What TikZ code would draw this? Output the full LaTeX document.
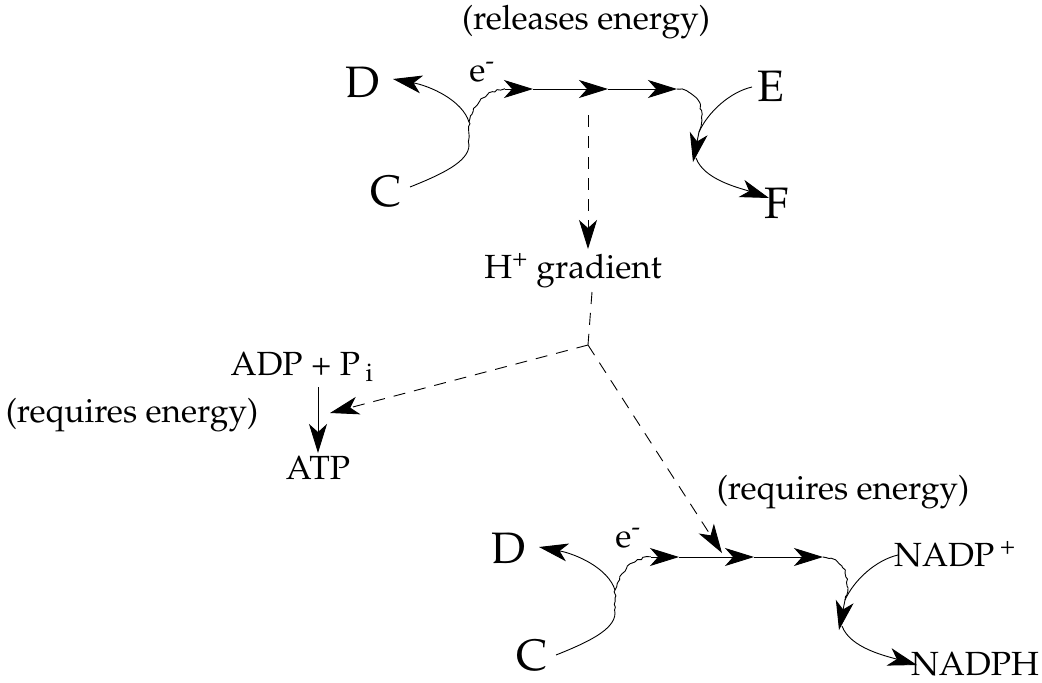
\documentclass[tikz,border=0pt]{standalone}
\usepackage[T1]{fontenc}
\usepackage{mathpazo}
\usetikzlibrary{arrows.meta,decorations.pathmorphing}

\tikzset{
  big/.style={inner sep=0pt, font=\fontsize{44}{50}\selectfont},
  lab/.style={inner sep=0pt, font=\fontsize{33.5}{40}\selectfont},
  tip/.style={-{Stealth[length=29pt,width=18pt,inset=8pt]}},
  flow/.style={line width=0.9pt},
  jag/.style={line width=0.9pt, decorate,
    decoration={random steps, segment length=3pt, amplitude=1pt}},
  dashy/.style={line width=0.9pt, dash pattern=on 12pt off 9pt},
}

\begin{document}
\begin{tikzpicture}[x=1pt,y=-1pt]
\pgfmathsetseed{4242}
\useasboundingbox (0,0) rectangle (1042,683);

% ---------- upper electron transport (releases energy) ----------
\node[lab] (rel) at (586,22) {(releases energy)};
\node[big] (D1) at (363,82) {D};
\node[big] (C1) at (386,192) {C};
\node[big] (E1) at (771,86) {E};
\node[big] (F1) at (777,203) {F};
\node[lab] (e1) at (482,72) {e\textsuperscript{-}};

\coordinate (c1) at (410,187);
\coordinate (j1) at (469,122);
\coordinate (d1) at (393,79);
\coordinate (w1) at (505,89);
\coordinate (a1) at (533,89);
\coordinate (a2) at (608,89);
\coordinate (a3) at (677,89);
\coordinate (r1) at (699,132);
\coordinate (t1) at (693,162);
\coordinate (e1s) at (752,87);
\coordinate (f1s) at (696,158);
\coordinate (f1) at (769,198);

\draw[flow] (c1) .. controls (440,175) and (469,162) .. (469,145);
\draw[jag] (469,145) -- (j1);
\draw[flow,tip] (j1) .. controls (462,100) and (430,86) .. (d1);
\draw[jag] (j1) .. controls (474,102) and (488,90) .. (w1);
\draw[flow,tip] (w1) -- (a1);
\draw[flow,tip] (a1) -- (a2);
\draw[flow,tip] (a2) -- (a3);
\draw[jag] (a3) .. controls (700,90) and (705,112) .. (r1);
\draw[flow,tip] (r1) -- (t1);
\draw[flow] (e1s) .. controls (730,92) and (708,112) .. (r1);
\draw[flow,tip] (f1s) .. controls (704,180) and (740,188) .. (f1);

% ---------- proton gradient ----------
\node[lab] (H) at (573,271) {H\textsuperscript{+} gradient};
\coordinate (h0) at (588,115);
\coordinate (h1) at (588,249);
\coordinate (h2) at (592,292);
\coordinate (j2) at (588,345);
\draw[dashy,tip] (h0) -- (h1);
\draw[dashy] (h2) -- (j2);

% ---------- ATP synthesis ----------
\node[lab] (ADP) at (302,367) {ADP + P\,\textsubscript{i}};
\node[lab] (req1) at (132,415) {(requires energy)};
\node[lab] (ATP) at (318,468) {ATP};
\coordinate (p0) at (318,387);
\coordinate (p1) at (318,453);
\coordinate (q1) at (330,413);
\draw[flow,tip] (p0) -- (p1);
\draw[dashy,tip] (j2) -- (q1);

% ---------- lower electron transport (requires energy) ----------
\node[lab] (req2) at (843,492) {(requires energy)};
\coordinate (q2) at (722,553);
\draw[dashy,tip] (j2) -- (q2);

\node[big] (D2) at (509,548) {D};
\node[big] (C2) at (532,656) {C};
\node[lab] (e2) at (628,538) {e\textsuperscript{-}};
\node[lab] (N1) at (955,554) {NADP\,\textsuperscript{+}};
\node[lab] (N2) at (975,664) {NADPH};

\begin{scope}[shift={(146,468)}]
\coordinate (c2) at (410,187);
\coordinate (j3) at (469,122);
\coordinate (d2) at (393,79);
\coordinate (w2) at (505,89);
\coordinate (b1) at (533,89);
\coordinate (b2) at (608,89);
\coordinate (b3) at (677,89);
\coordinate (r2) at (699,132);
\coordinate (t2) at (693,162);
\coordinate (n1s) at (752,87);
\coordinate (n2s) at (696,158);
\coordinate (n2) at (771,197);
\draw[flow] (c2) .. controls (440,175) and (469,162) .. (469,145);
\draw[jag] (469,145) -- (j3);
\draw[flow,tip] (j3) .. controls (462,100) and (430,86) .. (d2);
\draw[jag] (j3) .. controls (474,102) and (488,90) .. (w2);
\draw[flow,tip] (w2) -- (b1);
\draw[flow,tip] (b1) -- (b2);
\draw[flow,tip] (b2) -- (b3);
\draw[jag] (b3) .. controls (700,90) and (705,112) .. (r2);
\draw[flow,tip] (r2) -- (t2);
\draw[flow] (n1s) .. controls (730,92) and (708,112) .. (r2);
\draw[flow,tip] (n2s) .. controls (704,180) and (740,188) .. (n2);
\end{scope}
\end{tikzpicture}
\end{document}
